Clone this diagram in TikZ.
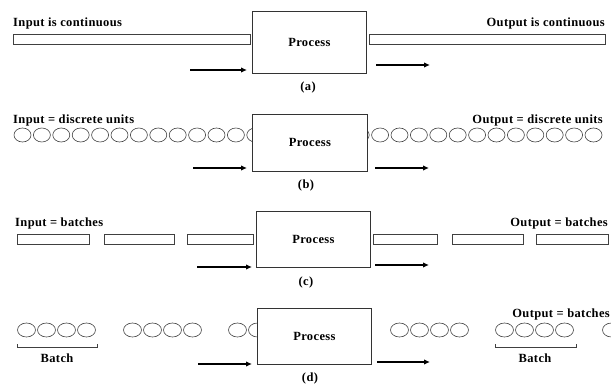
\documentclass[tikz,border=0pt]{standalone}
\usepackage{fontspec}
\setmainfont{Liberation Serif}[LetterSpace=3]
\usetikzlibrary{arrows.meta,shapes.geometric}
\tikzset{
  lbl/.style={font=\bfseries\fontsize{12.5}{14}\selectfont, inner sep=0pt, text=black},
  procbox/.style={draw=black!80, line width=0.8pt, fill=white, inner sep=0pt, anchor=north west,
    font=\bfseries\fontsize{12.5}{14}\selectfont},
  bar/.style={draw=black!75, line width=0.6pt, fill=white},
  unit/.style={ellipse, draw=black!75, line width=0.6pt, minimum width=17pt, minimum height=14pt, inner sep=0pt, outer sep=0pt},
  dunit/.style={unit, minimum width=18pt},
  flow/.style={line width=1.3pt, -{Latex[length=6pt,width=5.5pt]}},
  brk/.style={draw=black!75, line width=0.7pt}
}
\begin{document}
\begin{tikzpicture}[x=1pt,y=-1pt]
\useasboundingbox (0,0) rectangle (611,385);
% ---------------- (a)
\node[lbl, anchor=base west] (ta) at (13,27) {Input is continuous};
\draw[bar] (13,34) rectangle (250,44);
\draw[bar] (369,34) rectangle (605,44);
\node[procbox, minimum width=114pt, minimum height=62pt] (pa) at (252,11) {Process};
\node[lbl, anchor=base east] (oa) at (605,27) {Output is continuous};
\coordinate (ai1) at (190,70); \coordinate (ai2) at (247,70);
\coordinate (ao1) at (376,65); \coordinate (ao2) at (430,65);
\draw[flow] (ai1) -- (ai2);
\draw[flow] (ao1) -- (ao2);
\node[lbl] (la) at (308,87) {(a)};
% ---------------- (b)
\node[lbl, anchor=base west] (tb) at (13,124) {Input = discrete units};
\foreach \k in {0,...,12} {\node[unit] (bi\k) at ({22.5+19.4*\k},135) {};}
\foreach \k in {0,...,12} {\node[unit] (bo\k) at ({593.5-19.4*\k},135) {};}
\node[procbox, minimum width=115pt, minimum height=57pt] (pb) at (252,114) {Process};
\node[lbl, anchor=base east] (ob) at (603,124) {Output = discrete units};
\coordinate (bi1c) at (193,168); \coordinate (bi2c) at (247,168);
\coordinate (bo1c) at (375,168); \coordinate (bo2c) at (429,168);
\draw[flow] (bi1c) -- (bi2c);
\draw[flow] (bo1c) -- (bo2c);
\node[lbl] (lb) at (306,185) {(b)};
% ---------------- (c)
\node[lbl, anchor=base west] (tc) at (15,226) {Input = batches};
\draw[bar] (17,234) rectangle (89,244);
\draw[bar] (104,234) rectangle (174,244);
\draw[bar] (187,234) rectangle (253,244);
\draw[bar] (373,234) rectangle (437,244);
\draw[bar] (452,234) rectangle (523,244);
\draw[bar] (536,234) rectangle (608,244);
\node[procbox, minimum width=114pt, minimum height=56pt] (pc) at (256,211) {Process};
\node[lbl, anchor=base east] (oc) at (608,226) {Output = batches};
\coordinate (ci1) at (197,267); \coordinate (ci2) at (252,267);
\coordinate (co1) at (375,265); \coordinate (co2) at (429,265);
\draw[flow] (ci1) -- (ci2);
\draw[flow] (co1) -- (co2);
\node[lbl] (lc) at (306,282) {(c)};
% ---------------- (d)
\foreach \x [count=\n] in {26.5,46.5,66.5,86.5,132.5,152.5,172.5,192.5,237.5,257.5}
  {\node[dunit] (di\n) at (\x,330) {};}
\foreach \x [count=\n] in {399.5,419.5,439.5,459.5,504.5,524.5,544.5,564.5,611.5}
  {\node[dunit] (do\n) at (\x,330) {};}
\node[procbox, minimum width=114pt, minimum height=56pt] (pd) at (257,308) {Process};
\draw[brk] (17,344) -- (17,347) -- (97,347) -- (97,344);
\draw[brk] (495,344) -- (495,347) -- (576,347) -- (576,344);
\node[lbl] (bt1) at (57,358) {Batch};
\node[lbl] (bt2) at (535,358) {Batch};
\node[lbl, anchor=base east] (od) at (610,317) {Output = batches};
\coordinate (di1c) at (198,364); \coordinate (di2c) at (252,364);
\coordinate (do1c) at (377,362); \coordinate (do2c) at (430,362);
\draw[flow] (di1c) -- (di2c);
\draw[flow] (do1c) -- (do2c);
\node[lbl] (ld) at (310,378) {(d)};
\end{tikzpicture}
\end{document}
